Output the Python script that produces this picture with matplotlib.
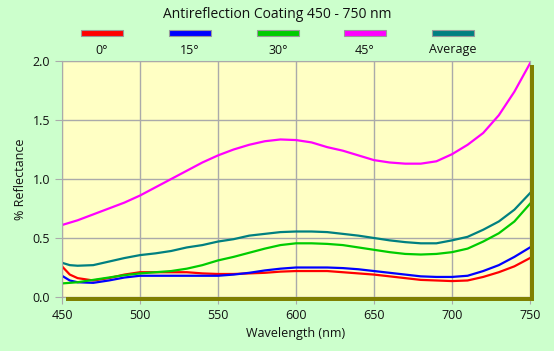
import matplotlib.pyplot as plt
from matplotlib.patches import Rectangle

wavelength = [450, 455, 460, 470, 480, 490, 500, 510, 520, 530, 540, 550, 560, 570, 580, 590,
              600, 610, 620, 630, 640, 650, 660, 670, 680, 690, 700, 710, 720, 730, 740, 750]

r0 = [0.26, 0.19, 0.16, 0.14, 0.16, 0.19, 0.21, 0.21, 0.21, 0.21, 0.20, 0.195, 0.195, 0.20, 0.205, 0.215,
      0.22, 0.22, 0.22, 0.21, 0.20, 0.19, 0.175, 0.16, 0.145, 0.14, 0.135, 0.14, 0.17, 0.21, 0.26, 0.33]
r15 = [0.18, 0.14, 0.125, 0.12, 0.14, 0.165, 0.18, 0.18, 0.18, 0.18, 0.18, 0.18, 0.19, 0.205, 0.225, 0.24,
       0.25, 0.25, 0.25, 0.245, 0.235, 0.22, 0.205, 0.19, 0.175, 0.17, 0.17, 0.18, 0.22, 0.27, 0.34, 0.42]
r30 = [0.115, 0.12, 0.125, 0.145, 0.165, 0.185, 0.20, 0.21, 0.22, 0.24, 0.27, 0.31, 0.34, 0.375, 0.41, 0.44,
       0.455, 0.455, 0.45, 0.44, 0.42, 0.40, 0.38, 0.365, 0.36, 0.365, 0.38, 0.41, 0.47, 0.54, 0.64, 0.79]
r45 = [0.61, 0.63, 0.65, 0.70, 0.75, 0.80, 0.86, 0.93, 1.00, 1.07, 1.14, 1.20, 1.25, 1.29, 1.32, 1.335,
       1.33, 1.31, 1.27, 1.24, 1.20, 1.16, 1.14, 1.13, 1.13, 1.15, 1.21, 1.29, 1.39, 1.54, 1.74, 1.98]
avg = [0.29, 0.27, 0.265, 0.27, 0.30, 0.33, 0.355, 0.37, 0.39, 0.42, 0.44, 0.47, 0.49, 0.52, 0.535, 0.55,
       0.555, 0.555, 0.55, 0.535, 0.52, 0.50, 0.48, 0.465, 0.455, 0.455, 0.48, 0.51, 0.57, 0.64, 0.74, 0.88]

series = [r0, r15, r30, r45, avg]
labels = ["0°", "15°", "30°", "45°", "Average"]
colors = ["#ff0000", "#0000ff", "#00cc00", "#ff00ff", "#008080"]

plt.rcParams['font.family'] = ['Open Sans', 'DejaVu Sans']

fig = plt.figure(figsize=(5.54, 3.51), dpi=100, facecolor="#ccffcc")
ax = fig.add_axes([62/554, 1-297/351, 468/554, 236/351])
ax.set_facecolor("#ffffc4")

# olive drop shadow
fig.patches.append(Rectangle((66/554, 1-301/351), 468/554, 4/351, transform=fig.transFigure,
                             facecolor="#808000", edgecolor="none", zorder=0))
fig.patches.append(Rectangle((530/554, 1-301/351), 4/554, 236/351, transform=fig.transFigure,
                             facecolor="#808000", edgecolor="none", zorder=0))

for ys, c in zip(series, colors):
    ax.plot(wavelength, ys, color=c, lw=1.6)

ax.set_xlim(450, 750)
ax.set_ylim(0, 2.0)
ax.set_xticks(range(450, 751, 50))
ax.set_yticks([0, 0.5, 1.0, 1.5, 2.0])
ax.set_yticklabels(["0.0", "0.5", "1.0", "1.5", "2.0"])
ax.grid(True, color="#aaaaaa", lw=1)
for s in ax.spines.values():
    s.set_color("#aaaaaa")
ax.tick_params(colors="#aaaaaa", labelcolor="#111111", labelsize=9, length=5)
ax.set_xlabel("Wavelength (nm)", fontsize=9, color="#111111")
ax.set_ylabel("% Reflectance", fontsize=9, color="#111111")

fig.text(0.5, 1-14/351, "Antireflection Coating 450 - 750 nm", ha="center", va="center",
         fontsize=10, color="#111111")

# legend: swatch above label
centers = [102, 190, 278, 365, 453]
for cx, lab, c in zip(centers, labels, colors):
    fig.patches.append(Rectangle(((cx - 21)/554, 1-36/351), 42/554, 6/351, transform=fig.transFigure,
                                 facecolor=c, edgecolor="#999999", lw=0.8))
    fig.text(cx/554, 1-50/351, lab, ha="center", va="center", fontsize=9, color="#111111")

fig.savefig("out.png", dpi=100, facecolor=fig.get_facecolor())
